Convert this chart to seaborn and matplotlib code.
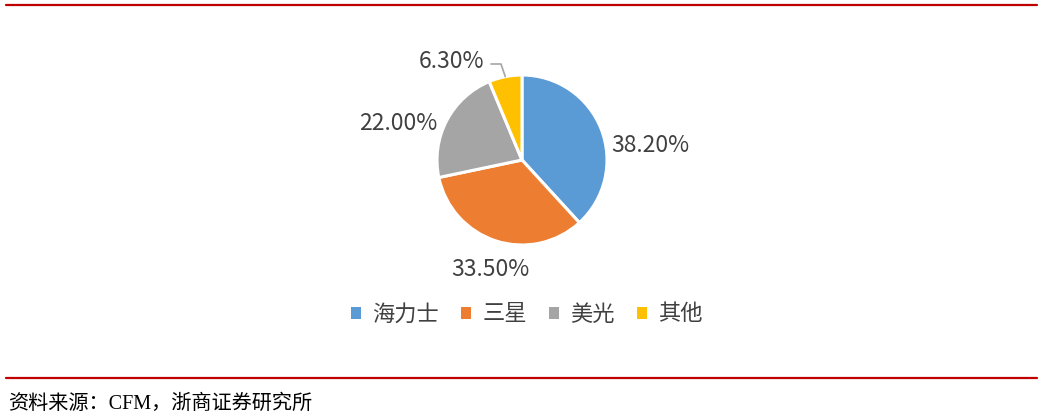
import matplotlib
matplotlib.use("Agg")
import matplotlib.pyplot as plt
import seaborn as sns
import numpy as np
from matplotlib.lines import Line2D
from matplotlib.patches import Patch

# ---- 数据 ----
brands = ["海力士", "三星", "美光", "其他"]
shares = [38.2, 33.5, 22.0, 6.3]
colors = ["#5B9BD5", "#ED7D31", "#A5A5A5", "#FFC000"]
source_text = "资料来源：CFM，浙商证券研究所"

sns.set_theme(style="white")
plt.rcParams['font.family'] = ['Noto Sans CJK SC', 'DejaVu Sans']

W, H = 1057, 420
fig = plt.figure(figsize=(W / 100, H / 100), dpi=100)
ax = fig.add_axes([0, 0, 1, 1])
ax.set_xlim(0, W)
ax.set_ylim(0, H)
ax.set_aspect("equal")
ax.axis("off")

# 像素坐标（y 从下往上）
cx, cy, r = 522, H - 160, 85
wedges, _ = ax.pie(shares, colors=colors, startangle=90, counterclock=False,
                   center=(cx, cy), radius=r,
                   wedgeprops=dict(edgecolor="white", linewidth=2.2))
ax.set_xlim(0, W)
ax.set_ylim(0, H)

# ---- 数据标签 ----
txt_color = "#404040"
label_pos = [(650, 145), (490, 270), (398, 123), (451, 62)]
for val, (lx, ly) in zip(shares, label_pos):
    ax.text(lx, H - ly, f"{val:.2f}%", ha="center", va="center",
            fontsize=16.5, color=txt_color)

# 6.30% 的引导线
w = wedges[3]
mid = np.deg2rad((w.theta1 + w.theta2) / 2)
ex, ey = cx + r * np.cos(mid), cy + r * np.sin(mid)
ax.plot([491, 501, ex], [H - 64, H - 64, ey], color="#A5A5A5", lw=1.2)

# ---- 图例 ----
handles = [Patch(facecolor=c, edgecolor="none") for c in colors]
fig.legend(handles, brands, loc="center", bbox_to_anchor=(527 / W, 1 - 314 / H),
           ncol=4, frameon=False, fontsize=16, handlelength=0.45, handleheight=0.45,
           handletextpad=0.5, columnspacing=1.0, labelcolor=txt_color)

# ---- 红色分隔线 ----
red = "#C00000"
fig.add_artist(Line2D([6 / W, 1037 / W], [1 - 5 / H, 1 - 5 / H], color=red, lw=1.6))
fig.add_artist(Line2D([6 / W, 1037 / W], [1 - 378 / H, 1 - 378 / H], color=red, lw=1.6))

# ---- 资料来源 ----
fig.text(8 / W, 1 - 404 / H, source_text, ha="left", va="center", fontsize=14.5,
         color="black", family=['Liberation Serif', 'Noto Sans CJK SC'])

fig.savefig("out.png", dpi=100)
